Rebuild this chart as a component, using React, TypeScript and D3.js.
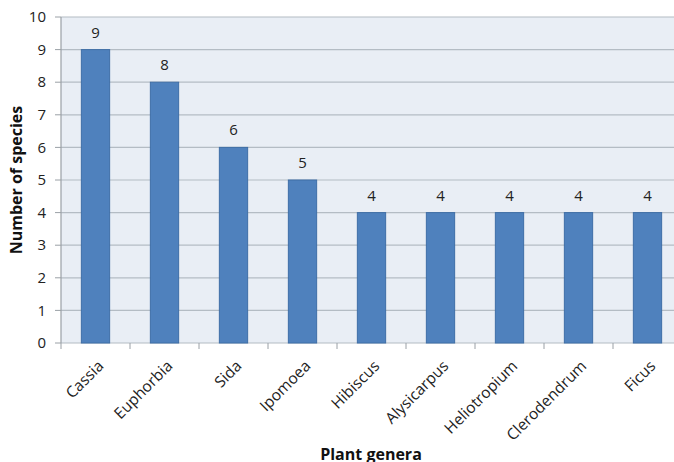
import React from "react";
import * as d3 from "d3";

const genera = ["Cassia", "Euphorbia", "Sida", "Ipomoea", "Hibiscus", "Alysicarpus", "Heliotropium", "Clerodendrum", "Ficus"];
const species = [9, 8, 6, 5, 4, 4, 4, 4, 4];
const yTicks = [0, 1, 2, 3, 4, 5, 6, 7, 8, 9, 10];

const W = 674, H = 462;
const left = 61, top = 17, bottom = 343, right = 682;
const font = "'Open Sans', 'Liberation Sans', sans-serif";

export default function App() {
  const x = d3.scaleBand<string>().domain(genera).range([left, right]).paddingInner(0.59).paddingOuter(0.295);
  const y = d3.scaleLinear().domain([0, 10]).range([bottom, top]);
  const step = x.step();
  return (
    <svg width={W} height={H} style={{ position: "absolute", left: 0, top: 0, background: "#fff" }}>
      <rect x={left} y={top} width={right - left} height={bottom - top} fill="#e9eef5" />
      {yTicks.map((t) => (
        <g key={t}>
          <line x1={left} x2={right} y1={y(t)} y2={y(t)} stroke="#b4bcc4" strokeWidth={1.2} />
          <line x1={left - 6} x2={left} y1={y(t)} y2={y(t)} stroke="#9aa0a6" strokeWidth={1} />
          <text x={left - 15} y={y(t)} dy="0.35em" textAnchor="end" fontFamily={font} fontSize={15} fill="#222">{t}</text>
        </g>
      ))}
      <line x1={left} x2={left} y1={top} y2={bottom} stroke="#9aa0a6" strokeWidth={1.2} />
      {genera.map((g, i) => (
        <line key={"t" + g} x1={left + step * i} x2={left + step * i} y1={bottom} y2={bottom + 6} stroke="#9aa0a6" strokeWidth={1} />
      ))}
      {genera.map((g, i) => (
        <g key={g}>
          <rect x={x(g)!} y={y(species[i])} width={x.bandwidth()} height={bottom - y(species[i])} fill="#4f81bd" stroke="#3f6ea6" strokeWidth={1} />
          <text x={x(g)! + x.bandwidth() / 2} y={y(species[i]) - 12} textAnchor="middle" fontFamily={font} fontSize={15} fill="#222">{species[i]}</text>
          <text transform={`translate(${x(g)! + x.bandwidth() / 2 + 9},${bottom + 24}) rotate(-45)`} textAnchor="end" fontFamily={font} fontSize={15.5} fill="#222">{g}</text>
        </g>
      ))}
      <text transform={`translate(22,${(top + bottom) / 2}) rotate(-90)`} textAnchor="middle" fontFamily={font} fontSize={16} fontWeight="bold" fill="#111">Number of species</text>
      <text x={371} y={460} textAnchor="middle" fontFamily={font} fontSize={16} fontWeight="bold" fill="#111">Plant genera</text>
    </svg>
  );
}
